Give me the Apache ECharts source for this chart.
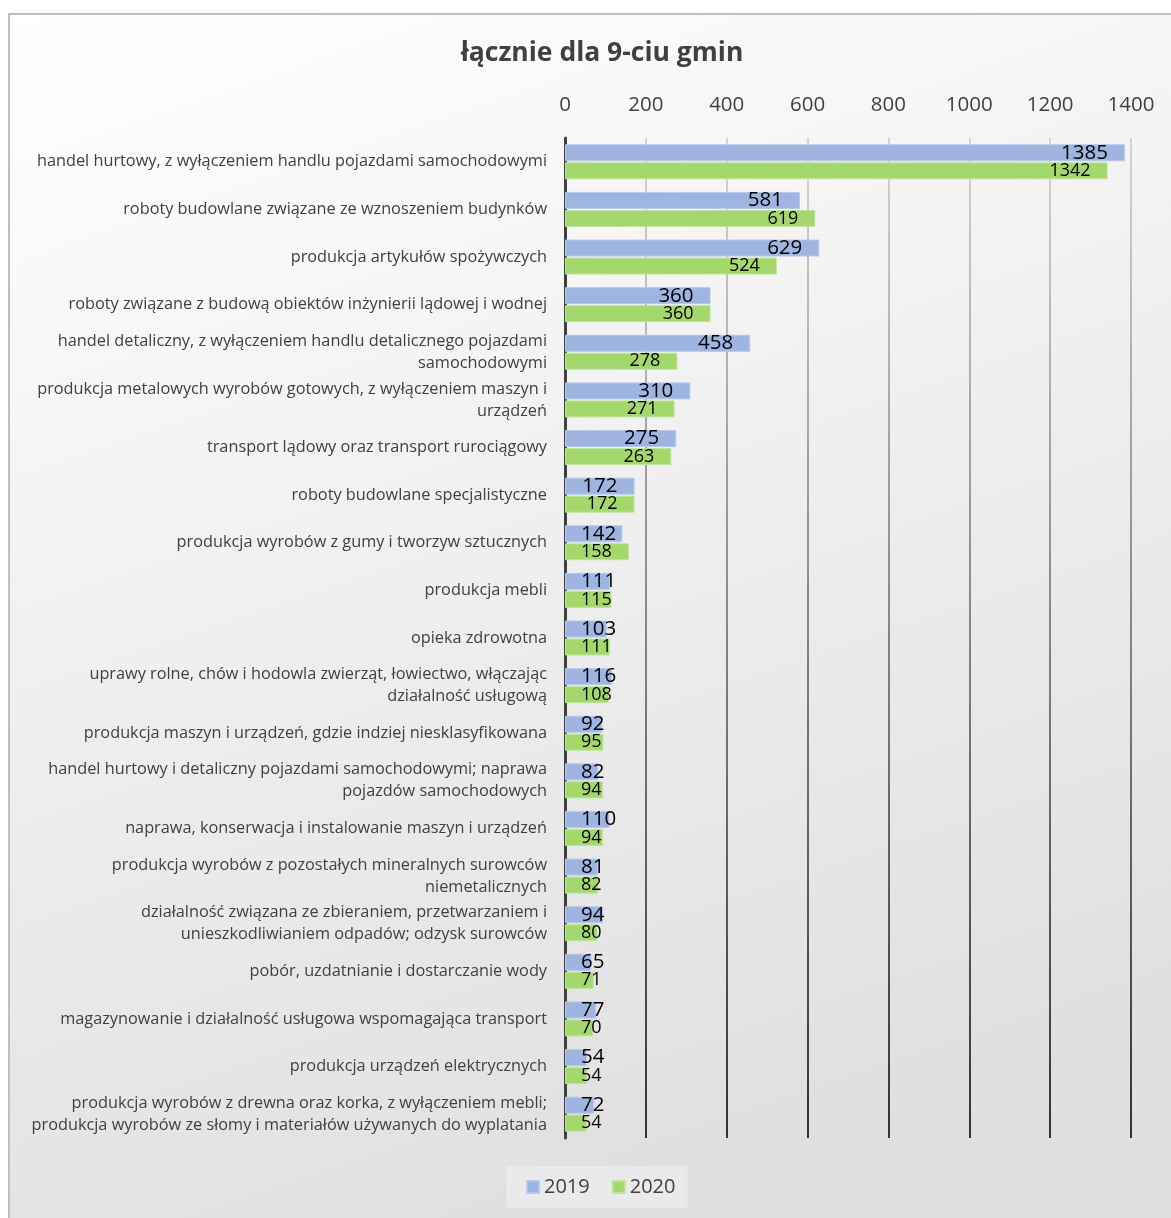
<!DOCTYPE html>
<html><head><meta charset="utf-8">
<script src="https://cdn.jsdelivr.net/npm/echarts@6/dist/echarts.min.js"></script>
<style>html,body{margin:0;padding:0;overflow:hidden;background:#fff}#c{width:1171px;height:1218px}</style>
</head><body><div id="c"></div>
<script>
const categories = [
  "handel hurtowy, z wyłączeniem handlu pojazdami samochodowymi",
  "roboty budowlane związane ze wznoszeniem budynków",
  "produkcja artykułów spożywczych",
  "roboty związane z budową obiektów inżynierii lądowej i wodnej",
  "handel detaliczny, z wyłączeniem handlu detalicznego pojazdami\nsamochodowymi",
  "produkcja metalowych wyrobów gotowych, z wyłączeniem maszyn i\nurządzeń",
  "transport lądowy oraz transport rurociągowy",
  "roboty budowlane specjalistyczne",
  "produkcja wyrobów z gumy i tworzyw sztucznych",
  "produkcja mebli",
  "opieka zdrowotna",
  "uprawy rolne, chów i hodowla zwierząt, łowiectwo, włączając\ndziałalność usługową",
  "produkcja maszyn i urządzeń, gdzie indziej niesklasyfikowana",
  "handel hurtowy i detaliczny pojazdami samochodowymi; naprawa\npojazdów samochodowych",
  "naprawa, konserwacja i instalowanie maszyn i urządzeń",
  "produkcja wyrobów z pozostałych mineralnych surowców\nniemetalicznych",
  "działalność związana ze zbieraniem, przetwarzaniem i\nunieszkodliwianiem odpadów; odzysk surowców",
  "pobór, uzdatnianie i dostarczanie wody",
  "magazynowanie i działalność usługowa wspomagająca transport",
  "produkcja urządzeń elektrycznych",
  "produkcja wyrobów z drewna oraz korka, z wyłączeniem mebli;\nprodukcja wyrobów ze słomy i materiałów używanych do wyplatania"
];
const values2019 = [1385,581,629,360,458,310,275,172,142,111,103,116,92,82,110,81,94,65,77,54,72];
const values2020 = [1342,619,524,360,278,271,263,172,158,115,111,108,95,94,94,82,80,71,70,54,54];
const seriesNames = ["2019","2020"];
const titleText = "łącznie dla 9-ciu gmin";

const FONT = "Open Sans";
const chart = echarts.init(document.getElementById('c'));

function layoutLabel(p){
  const r = p.rect, lr = p.labelRect;
  const right = Math.max(r.x + r.width - 17, r.x + 16 + lr.width);
  return {x: right, y: r.y + r.height/2, align: 'right', verticalAlign: 'middle'};
}

chart.setOption({
  animation: false,
  graphic: [{
    type: 'rect', z: -10, silent: true,
    shape: {x: 9, y: 14, width: 1190, height: 1230},
    style: {
      fill: new echarts.graphic.LinearGradient(0, 0, 0.35, 1, [
        {offset: 0, color: '#ffffff'},
        {offset: 1, color: '#e0e0e0'}
      ]),
      stroke: '#bfbfbf', lineWidth: 2
    }
  }],
  title: {
    text: titleText, left: 597, top: 35, textAlign: 'center',
    textStyle: {fontFamily: FONT, fontSize: 26.5, fontWeight: 'bold', color: '#404040'}
  },
  legend: {
    data: seriesNames, left: 506, top: 1166,
    icon: 'rect', itemWidth: 12, itemHeight: 12, itemGap: 22,
    backgroundColor: 'rgba(236,236,236,0.8)', padding: [11, 12, 11, 20],
    textStyle: {fontFamily: FONT, fontSize: 20, color: '#404040'}
  },
  grid: {left: 565, top: 138, width: 566, height: 1000, containLabel: false},
  xAxis: {
    type: 'value', position: 'top', min: 0, max: 1400, interval: 200,
    axisLine: {show: false}, axisTick: {show: false},
    axisLabel: {fontFamily: FONT, fontSize: 20.5, color: '#404040', margin: 22, formatter: v => String(v)},
    splitLine: {lineStyle: {width: 2, color: new echarts.graphic.LinearGradient(0, 140, 0, 1140, [
      {offset: 0, color: '#d4d4d4'}, {offset: 1, color: '#333333'}], true)}}
  },
  yAxis: {
    type: 'category', data: categories, inverse: true,
    axisLine: {lineStyle: {color: '#404040', width: 3}}, axisTick: {show: false},
    axisLabel: {fontFamily: FONT, fontSize: 16.3, color: '#404040', margin: 18, lineHeight: 22, align: 'right'}
  },
  series: [
    {
      name: seriesNames[0], type: 'bar', data: values2019,
      barWidth: 17, barGap: '6%',
      itemStyle: {color: '#9fb5e1', borderColor: '#b7c8eb', borderWidth: 1},
      label: {show: true, position: 'insideRight', fontFamily: FONT, fontSize: 20.5, color: '#000'},
      labelLayout: layoutLabel
    },
    {
      name: seriesNames[1], type: 'bar', data: values2020,
      barWidth: 17,
      itemStyle: {color: '#a3d96c', borderColor: '#bfe59a', borderWidth: 1},
      label: {show: true, position: 'insideRight', fontFamily: FONT, fontSize: 18, color: '#000'},
      labelLayout: layoutLabel
    }
  ]
});
</script></body></html>
